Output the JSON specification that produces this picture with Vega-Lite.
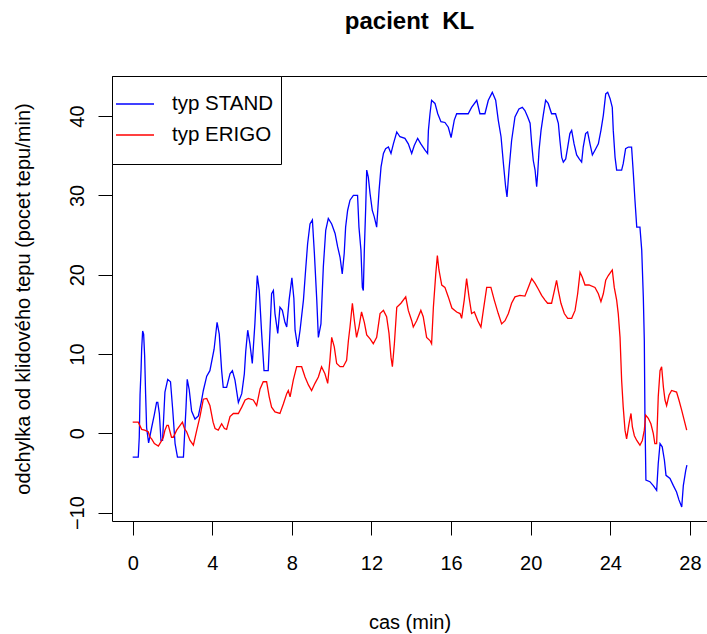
{
  "$schema": "https://vega.github.io/schema/vega-lite/v6.json",
  "width": 595,
  "height": 445,
  "autosize": {"type": "none"},
  "padding": {"left": 112, "top": 76, "right": 0, "bottom": 113},
  "background": "white",
  "config": {
    "font": "Liberation Sans",
    "view": {"stroke": null},
    "axis": {"grid": false, "domainColor": "black", "tickColor": "black", "labelColor": "black", "titleColor": "black", "labelFont": "Liberation Sans", "titleFont": "Liberation Sans", "labelFontSize": 20, "titleFontSize": 20, "titleFontWeight": "normal", "tickSize": 14, "domainWidth": 1, "tickWidth": 1}
  },
  "title": {"text": "pacient\u00a0 KL", "fontSize": 24, "fontWeight": "bold", "font": "Liberation Sans", "anchor": "middle", "baseline": "alphabetic", "offset": 23, "color": "black"},
  "data": {"values": [
{"typ":"typ STAND","cas":0,"hr":-3},{"typ":"typ STAND","cas":0.28,"hr":-3},{"typ":"typ STAND","cas":0.33,"hr":-0.5},{"typ":"typ STAND","cas":0.37,"hr":4.9},{"typ":"typ STAND","cas":0.42,"hr":8},{"typ":"typ STAND","cas":0.45,"hr":10.6},{"typ":"typ STAND","cas":0.5,"hr":12.9},{"typ":"typ STAND","cas":0.55,"hr":12.5},{"typ":"typ STAND","cas":0.6,"hr":9.8},{"typ":"typ STAND","cas":0.65,"hr":4.9},{"typ":"typ STAND","cas":0.7,"hr":0.7},{"typ":"typ STAND","cas":0.8,"hr":-1.2},{"typ":"typ STAND","cas":0.95,"hr":0.7},{"typ":"typ STAND","cas":1.09,"hr":2.4},{"typ":"typ STAND","cas":1.2,"hr":3.9},{"typ":"typ STAND","cas":1.26,"hr":3.9},{"typ":"typ STAND","cas":1.34,"hr":2.5},{"typ":"typ STAND","cas":1.42,"hr":-0.9},{"typ":"typ STAND","cas":1.5,"hr":-0.9},{"typ":"typ STAND","cas":1.62,"hr":5.2},{"typ":"typ STAND","cas":1.76,"hr":6.8},{"typ":"typ STAND","cas":1.9,"hr":6.5},{"typ":"typ STAND","cas":2.01,"hr":3},{"typ":"typ STAND","cas":2.13,"hr":-1.3},{"typ":"typ STAND","cas":2.25,"hr":-3},{"typ":"typ STAND","cas":2.55,"hr":-3},{"typ":"typ STAND","cas":2.68,"hr":3.3},{"typ":"typ STAND","cas":2.74,"hr":6.8},{"typ":"typ STAND","cas":2.84,"hr":5.5},{"typ":"typ STAND","cas":2.96,"hr":2.8},{"typ":"typ STAND","cas":3.13,"hr":1.8},{"typ":"typ STAND","cas":3.3,"hr":2.2},{"typ":"typ STAND","cas":3.45,"hr":4},{"typ":"typ STAND","cas":3.55,"hr":5.4},{"typ":"typ STAND","cas":3.72,"hr":7.2},{"typ":"typ STAND","cas":3.88,"hr":7.9},{"typ":"typ STAND","cas":4.09,"hr":10.6},{"typ":"typ STAND","cas":4.24,"hr":14},{"typ":"typ STAND","cas":4.35,"hr":12.5},{"typ":"typ STAND","cas":4.47,"hr":7.9},{"typ":"typ STAND","cas":4.55,"hr":5.8},{"typ":"typ STAND","cas":4.72,"hr":5.8},{"typ":"typ STAND","cas":4.89,"hr":7.5},{"typ":"typ STAND","cas":5.01,"hr":7.9},{"typ":"typ STAND","cas":5.14,"hr":6.7},{"typ":"typ STAND","cas":5.31,"hr":3.9},{"typ":"typ STAND","cas":5.48,"hr":5},{"typ":"typ STAND","cas":5.61,"hr":7.5},{"typ":"typ STAND","cas":5.68,"hr":10.3},{"typ":"typ STAND","cas":5.78,"hr":13},{"typ":"typ STAND","cas":5.89,"hr":11.3},{"typ":"typ STAND","cas":6.01,"hr":8.8},{"typ":"typ STAND","cas":6.14,"hr":13.8},{"typ":"typ STAND","cas":6.26,"hr":19.9},{"typ":"typ STAND","cas":6.36,"hr":18},{"typ":"typ STAND","cas":6.48,"hr":12.6},{"typ":"typ STAND","cas":6.6,"hr":7.9},{"typ":"typ STAND","cas":6.81,"hr":7.9},{"typ":"typ STAND","cas":6.9,"hr":13},{"typ":"typ STAND","cas":6.98,"hr":17.6},{"typ":"typ STAND","cas":7.07,"hr":18},{"typ":"typ STAND","cas":7.15,"hr":15.1},{"typ":"typ STAND","cas":7.29,"hr":12.6},{"typ":"typ STAND","cas":7.4,"hr":15.9},{"typ":"typ STAND","cas":7.52,"hr":15.5},{"typ":"typ STAND","cas":7.65,"hr":14},{"typ":"typ STAND","cas":7.74,"hr":13.4},{"typ":"typ STAND","cas":7.86,"hr":16.8},{"typ":"typ STAND","cas":8.0,"hr":19.6},{"typ":"typ STAND","cas":8.1,"hr":17},{"typ":"typ STAND","cas":8.16,"hr":13},{"typ":"typ STAND","cas":8.29,"hr":10.9},{"typ":"typ STAND","cas":8.41,"hr":13},{"typ":"typ STAND","cas":8.58,"hr":16.8},{"typ":"typ STAND","cas":8.69,"hr":20.6},{"typ":"typ STAND","cas":8.79,"hr":23.9},{"typ":"typ STAND","cas":8.91,"hr":26.4},{"typ":"typ STAND","cas":9.03,"hr":26.9},{"typ":"typ STAND","cas":9.13,"hr":22.7},{"typ":"typ STAND","cas":9.25,"hr":16.8},{"typ":"typ STAND","cas":9.33,"hr":12.1},{"typ":"typ STAND","cas":9.46,"hr":13.8},{"typ":"typ STAND","cas":9.58,"hr":21},{"typ":"typ STAND","cas":9.7,"hr":25.6},{"typ":"typ STAND","cas":9.83,"hr":27.1},{"typ":"typ STAND","cas":10.0,"hr":26.4},{"typ":"typ STAND","cas":10.17,"hr":25.2},{"typ":"typ STAND","cas":10.3,"hr":23.5},{"typ":"typ STAND","cas":10.42,"hr":22.2},{"typ":"typ STAND","cas":10.53,"hr":20.1},{"typ":"typ STAND","cas":10.63,"hr":22.7},{"typ":"typ STAND","cas":10.7,"hr":26},{"typ":"typ STAND","cas":10.8,"hr":28.1},{"typ":"typ STAND","cas":10.92,"hr":29.4},{"typ":"typ STAND","cas":11.09,"hr":30},{"typ":"typ STAND","cas":11.3,"hr":30},{"typ":"typ STAND","cas":11.37,"hr":26},{"typ":"typ STAND","cas":11.47,"hr":23.1},{"typ":"typ STAND","cas":11.54,"hr":18.4},{"typ":"typ STAND","cas":11.59,"hr":18},{"typ":"typ STAND","cas":11.64,"hr":23.1},{"typ":"typ STAND","cas":11.71,"hr":28.5},{"typ":"typ STAND","cas":11.76,"hr":33.2},{"typ":"typ STAND","cas":11.84,"hr":32.3},{"typ":"typ STAND","cas":11.93,"hr":30.2},{"typ":"typ STAND","cas":12.04,"hr":28.1},{"typ":"typ STAND","cas":12.14,"hr":27.3},{"typ":"typ STAND","cas":12.26,"hr":26},{"typ":"typ STAND","cas":12.38,"hr":30.6},{"typ":"typ STAND","cas":12.48,"hr":33.6},{"typ":"typ STAND","cas":12.6,"hr":35.3},{"typ":"typ STAND","cas":12.71,"hr":35.9},{"typ":"typ STAND","cas":12.85,"hr":36.1},{"typ":"typ STAND","cas":12.98,"hr":35.3},{"typ":"typ STAND","cas":13.1,"hr":36.5},{"typ":"typ STAND","cas":13.27,"hr":38},{"typ":"typ STAND","cas":13.43,"hr":37.4},{"typ":"typ STAND","cas":13.68,"hr":37.2},{"typ":"typ STAND","cas":13.85,"hr":36.5},{"typ":"typ STAND","cas":14.02,"hr":35.3},{"typ":"typ STAND","cas":14.15,"hr":36.3},{"typ":"typ STAND","cas":14.32,"hr":37.2},{"typ":"typ STAND","cas":14.48,"hr":36.5},{"typ":"typ STAND","cas":14.69,"hr":35.7},{"typ":"typ STAND","cas":14.82,"hr":35.3},{"typ":"typ STAND","cas":14.86,"hr":38.2},{"typ":"typ STAND","cas":14.94,"hr":40.3},{"typ":"typ STAND","cas":15.02,"hr":42},{"typ":"typ STAND","cas":15.19,"hr":41.6},{"typ":"typ STAND","cas":15.33,"hr":40.3},{"typ":"typ STAND","cas":15.49,"hr":39.3},{"typ":"typ STAND","cas":15.69,"hr":39.2},{"typ":"typ STAND","cas":15.86,"hr":38.6},{"typ":"typ STAND","cas":16.0,"hr":37.3},{"typ":"typ STAND","cas":16.16,"hr":39.5},{"typ":"typ STAND","cas":16.28,"hr":40.3},{"typ":"typ STAND","cas":16.86,"hr":40.3},{"typ":"typ STAND","cas":17.03,"hr":41.1},{"typ":"typ STAND","cas":17.29,"hr":42},{"typ":"typ STAND","cas":17.45,"hr":40.3},{"typ":"typ STAND","cas":17.7,"hr":40.3},{"typ":"typ STAND","cas":17.87,"hr":42},{"typ":"typ STAND","cas":18.07,"hr":43},{"typ":"typ STAND","cas":18.24,"hr":42},{"typ":"typ STAND","cas":18.37,"hr":39.5},{"typ":"typ STAND","cas":18.51,"hr":37.4},{"typ":"typ STAND","cas":18.63,"hr":34},{"typ":"typ STAND","cas":18.74,"hr":31.1},{"typ":"typ STAND","cas":18.81,"hr":29.8},{"typ":"typ STAND","cas":18.91,"hr":33.2},{"typ":"typ STAND","cas":19.04,"hr":36.9},{"typ":"typ STAND","cas":19.21,"hr":39.9},{"typ":"typ STAND","cas":19.41,"hr":40.9},{"typ":"typ STAND","cas":19.58,"hr":41.1},{"typ":"typ STAND","cas":19.71,"hr":40.7},{"typ":"typ STAND","cas":19.85,"hr":39.9},{"typ":"typ STAND","cas":19.97,"hr":39.1},{"typ":"typ STAND","cas":20.05,"hr":36.5},{"typ":"typ STAND","cas":20.13,"hr":34.4},{"typ":"typ STAND","cas":20.22,"hr":33.2},{"typ":"typ STAND","cas":20.3,"hr":31.1},{"typ":"typ STAND","cas":20.35,"hr":32.7},{"typ":"typ STAND","cas":20.42,"hr":35.7},{"typ":"typ STAND","cas":20.52,"hr":38.2},{"typ":"typ STAND","cas":20.63,"hr":40.1},{"typ":"typ STAND","cas":20.75,"hr":42},{"typ":"typ STAND","cas":20.88,"hr":41.6},{"typ":"typ STAND","cas":21.05,"hr":40.3},{"typ":"typ STAND","cas":21.25,"hr":40.3},{"typ":"typ STAND","cas":21.39,"hr":39.1},{"typ":"typ STAND","cas":21.47,"hr":36.9},{"typ":"typ STAND","cas":21.56,"hr":34.8},{"typ":"typ STAND","cas":21.64,"hr":34.2},{"typ":"typ STAND","cas":21.76,"hr":34.6},{"typ":"typ STAND","cas":21.86,"hr":36.1},{"typ":"typ STAND","cas":21.97,"hr":37.8},{"typ":"typ STAND","cas":22.06,"hr":38.2},{"typ":"typ STAND","cas":22.18,"hr":36.5},{"typ":"typ STAND","cas":22.31,"hr":35.1},{"typ":"typ STAND","cas":22.44,"hr":34.6},{"typ":"typ STAND","cas":22.56,"hr":34.2},{"typ":"typ STAND","cas":22.64,"hr":36.1},{"typ":"typ STAND","cas":22.76,"hr":37.8},{"typ":"typ STAND","cas":22.86,"hr":38},{"typ":"typ STAND","cas":22.98,"hr":36.5},{"typ":"typ STAND","cas":23.1,"hr":35.1},{"typ":"typ STAND","cas":23.23,"hr":35.7},{"typ":"typ STAND","cas":23.4,"hr":36.5},{"typ":"typ STAND","cas":23.53,"hr":38.2},{"typ":"typ STAND","cas":23.65,"hr":40.1},{"typ":"typ STAND","cas":23.77,"hr":42.8},{"typ":"typ STAND","cas":23.87,"hr":43},{"typ":"typ STAND","cas":23.99,"hr":42.2},{"typ":"typ STAND","cas":24.1,"hr":41.1},{"typ":"typ STAND","cas":24.15,"hr":38.2},{"typ":"typ STAND","cas":24.24,"hr":34.8},{"typ":"typ STAND","cas":24.32,"hr":33.2},{"typ":"typ STAND","cas":24.57,"hr":33.2},{"typ":"typ STAND","cas":24.65,"hr":34},{"typ":"typ STAND","cas":24.77,"hr":35.9},{"typ":"typ STAND","cas":24.91,"hr":36.1},{"typ":"typ STAND","cas":25.07,"hr":36.1},{"typ":"typ STAND","cas":25.16,"hr":32.7},{"typ":"typ STAND","cas":25.24,"hr":29.4},{"typ":"typ STAND","cas":25.33,"hr":26},{"typ":"typ STAND","cas":25.49,"hr":26},{"typ":"typ STAND","cas":25.58,"hr":23.1},{"typ":"typ STAND","cas":25.66,"hr":17.2},{"typ":"typ STAND","cas":25.71,"hr":11.7},{"typ":"typ STAND","cas":25.74,"hr":2.5},{"typ":"typ STAND","cas":25.79,"hr":-5.9},{"typ":"typ STAND","cas":25.99,"hr":-6.1},{"typ":"typ STAND","cas":26.16,"hr":-6.6},{"typ":"typ STAND","cas":26.33,"hr":-7.2},{"typ":"typ STAND","cas":26.41,"hr":-3.8},{"typ":"typ STAND","cas":26.5,"hr":-1.3},{"typ":"typ STAND","cas":26.61,"hr":-1.7},{"typ":"typ STAND","cas":26.72,"hr":-3.4},{"typ":"typ STAND","cas":26.8,"hr":-5.3},{"typ":"typ STAND","cas":27.0,"hr":-5.7},{"typ":"typ STAND","cas":27.17,"hr":-6.6},{"typ":"typ STAND","cas":27.33,"hr":-7.4},{"typ":"typ STAND","cas":27.45,"hr":-8.4},{"typ":"typ STAND","cas":27.59,"hr":-9.3},{"typ":"typ STAND","cas":27.67,"hr":-6.6},{"typ":"typ STAND","cas":27.79,"hr":-4.7},{"typ":"typ STAND","cas":27.85,"hr":-4},
{"typ":"typ ERIGO","cas":0,"hr":1.4},{"typ":"typ ERIGO","cas":0.28,"hr":1.4},{"typ":"typ ERIGO","cas":0.45,"hr":0.5},{"typ":"typ ERIGO","cas":0.6,"hr":0.4},{"typ":"typ ERIGO","cas":0.78,"hr":0.2},{"typ":"typ ERIGO","cas":0.87,"hr":-0.5},{"typ":"typ ERIGO","cas":0.95,"hr":-0.7},{"typ":"typ ERIGO","cas":1.09,"hr":-1.3},{"typ":"typ ERIGO","cas":1.29,"hr":-1.6},{"typ":"typ ERIGO","cas":1.46,"hr":-0.9},{"typ":"typ ERIGO","cas":1.54,"hr":-0.5},{"typ":"typ ERIGO","cas":1.62,"hr":0.4},{"typ":"typ ERIGO","cas":1.72,"hr":1},{"typ":"typ ERIGO","cas":1.79,"hr":1},{"typ":"typ ERIGO","cas":1.95,"hr":-0.5},{"typ":"typ ERIGO","cas":2.04,"hr":-0.5},{"typ":"typ ERIGO","cas":2.21,"hr":0.4},{"typ":"typ ERIGO","cas":2.38,"hr":1},{"typ":"typ ERIGO","cas":2.5,"hr":1.4},{"typ":"typ ERIGO","cas":2.6,"hr":0.6},{"typ":"typ ERIGO","cas":2.71,"hr":0.2},{"typ":"typ ERIGO","cas":2.88,"hr":-0.9},{"typ":"typ ERIGO","cas":3.05,"hr":-1.5},{"typ":"typ ERIGO","cas":3.22,"hr":0.4},{"typ":"typ ERIGO","cas":3.38,"hr":2.1},{"typ":"typ ERIGO","cas":3.55,"hr":4.3},{"typ":"typ ERIGO","cas":3.72,"hr":4.4},{"typ":"typ ERIGO","cas":3.88,"hr":3.5},{"typ":"typ ERIGO","cas":4.04,"hr":1.4},{"typ":"typ ERIGO","cas":4.14,"hr":0.6},{"typ":"typ ERIGO","cas":4.3,"hr":0.4},{"typ":"typ ERIGO","cas":4.47,"hr":1.2},{"typ":"typ ERIGO","cas":4.61,"hr":0.6},{"typ":"typ ERIGO","cas":4.72,"hr":0.5},{"typ":"typ ERIGO","cas":4.89,"hr":2.1},{"typ":"typ ERIGO","cas":5.06,"hr":2.5},{"typ":"typ ERIGO","cas":5.31,"hr":2.5},{"typ":"typ ERIGO","cas":5.48,"hr":3.3},{"typ":"typ ERIGO","cas":5.65,"hr":4.2},{"typ":"typ ERIGO","cas":5.81,"hr":4.4},{"typ":"typ ERIGO","cas":6.06,"hr":4.2},{"typ":"typ ERIGO","cas":6.23,"hr":3.5},{"typ":"typ ERIGO","cas":6.4,"hr":5.6},{"typ":"typ ERIGO","cas":6.56,"hr":6.5},{"typ":"typ ERIGO","cas":6.73,"hr":6.5},{"typ":"typ ERIGO","cas":6.86,"hr":4.6},{"typ":"typ ERIGO","cas":6.98,"hr":3.3},{"typ":"typ ERIGO","cas":7.15,"hr":2.7},{"typ":"typ ERIGO","cas":7.4,"hr":2.5},{"typ":"typ ERIGO","cas":7.57,"hr":3.7},{"typ":"typ ERIGO","cas":7.74,"hr":5},{"typ":"typ ERIGO","cas":7.82,"hr":5.4},{"typ":"typ ERIGO","cas":7.91,"hr":4.6},{"typ":"typ ERIGO","cas":8.07,"hr":6.7},{"typ":"typ ERIGO","cas":8.24,"hr":8.4},{"typ":"typ ERIGO","cas":8.49,"hr":8.4},{"typ":"typ ERIGO","cas":8.66,"hr":7.1},{"typ":"typ ERIGO","cas":8.83,"hr":6.1},{"typ":"typ ERIGO","cas":8.99,"hr":5.4},{"typ":"typ ERIGO","cas":9.16,"hr":6.3},{"typ":"typ ERIGO","cas":9.33,"hr":7.1},{"typ":"typ ERIGO","cas":9.49,"hr":8.4},{"typ":"typ ERIGO","cas":9.66,"hr":7.5},{"typ":"typ ERIGO","cas":9.8,"hr":6.3},{"typ":"typ ERIGO","cas":9.91,"hr":9.2},{"typ":"typ ERIGO","cas":10.0,"hr":12.1},{"typ":"typ ERIGO","cas":10.13,"hr":10.9},{"typ":"typ ERIGO","cas":10.25,"hr":8.8},{"typ":"typ ERIGO","cas":10.42,"hr":8.4},{"typ":"typ ERIGO","cas":10.58,"hr":8.4},{"typ":"typ ERIGO","cas":10.75,"hr":9.2},{"typ":"typ ERIGO","cas":10.84,"hr":11.7},{"typ":"typ ERIGO","cas":10.92,"hr":13.4},{"typ":"typ ERIGO","cas":11.04,"hr":16.4},{"typ":"typ ERIGO","cas":11.14,"hr":14.2},{"typ":"typ ERIGO","cas":11.25,"hr":12.1},{"typ":"typ ERIGO","cas":11.37,"hr":13.4},{"typ":"typ ERIGO","cas":11.5,"hr":15.3},{"typ":"typ ERIGO","cas":11.64,"hr":14},{"typ":"typ ERIGO","cas":11.76,"hr":12.4},{"typ":"typ ERIGO","cas":11.93,"hr":11.9},{"typ":"typ ERIGO","cas":12.09,"hr":11.3},{"typ":"typ ERIGO","cas":12.26,"hr":12.1},{"typ":"typ ERIGO","cas":12.43,"hr":15.1},{"typ":"typ ERIGO","cas":12.6,"hr":15.5},{"typ":"typ ERIGO","cas":12.76,"hr":14.7},{"typ":"typ ERIGO","cas":12.88,"hr":12.6},{"typ":"typ ERIGO","cas":12.98,"hr":9.6},{"typ":"typ ERIGO","cas":13.05,"hr":8.4},{"typ":"typ ERIGO","cas":13.15,"hr":11.3},{"typ":"typ ERIGO","cas":13.27,"hr":15.9},{"typ":"typ ERIGO","cas":13.48,"hr":16.4},{"typ":"typ ERIGO","cas":13.72,"hr":17.2},{"typ":"typ ERIGO","cas":13.85,"hr":15.5},{"typ":"typ ERIGO","cas":14.02,"hr":14.2},{"typ":"typ ERIGO","cas":14.1,"hr":13.4},{"typ":"typ ERIGO","cas":14.27,"hr":14.2},{"typ":"typ ERIGO","cas":14.48,"hr":15.5},{"typ":"typ ERIGO","cas":14.6,"hr":14.7},{"typ":"typ ERIGO","cas":14.77,"hr":12.1},{"typ":"typ ERIGO","cas":14.94,"hr":11.7},{"typ":"typ ERIGO","cas":15.02,"hr":11.3},{"typ":"typ ERIGO","cas":15.11,"hr":15.9},{"typ":"typ ERIGO","cas":15.23,"hr":20.1},{"typ":"typ ERIGO","cas":15.31,"hr":22.4},{"typ":"typ ERIGO","cas":15.39,"hr":20.6},{"typ":"typ ERIGO","cas":15.53,"hr":18.7},{"typ":"typ ERIGO","cas":15.69,"hr":18.4},{"typ":"typ ERIGO","cas":15.86,"hr":17.2},{"typ":"typ ERIGO","cas":16.04,"hr":15.8},{"typ":"typ ERIGO","cas":16.28,"hr":15.3},{"typ":"typ ERIGO","cas":16.45,"hr":15.1},{"typ":"typ ERIGO","cas":16.53,"hr":14.5},{"typ":"typ ERIGO","cas":16.66,"hr":16.8},{"typ":"typ ERIGO","cas":16.78,"hr":19.5},{"typ":"typ ERIGO","cas":16.9,"hr":17.2},{"typ":"typ ERIGO","cas":17.03,"hr":15.1},{"typ":"typ ERIGO","cas":17.17,"hr":15.3},{"typ":"typ ERIGO","cas":17.34,"hr":14.2},{"typ":"typ ERIGO","cas":17.5,"hr":13.4},{"typ":"typ ERIGO","cas":17.62,"hr":15.5},{"typ":"typ ERIGO","cas":17.79,"hr":18.4},{"typ":"typ ERIGO","cas":18.0,"hr":18.4},{"typ":"typ ERIGO","cas":18.17,"hr":16.8},{"typ":"typ ERIGO","cas":18.37,"hr":15.1},{"typ":"typ ERIGO","cas":18.54,"hr":13.8},{"typ":"typ ERIGO","cas":18.71,"hr":14.2},{"typ":"typ ERIGO","cas":18.88,"hr":15.1},{"typ":"typ ERIGO","cas":19.04,"hr":16.4},{"typ":"typ ERIGO","cas":19.21,"hr":17.2},{"typ":"typ ERIGO","cas":19.46,"hr":17.4},{"typ":"typ ERIGO","cas":19.71,"hr":17.3},{"typ":"typ ERIGO","cas":19.88,"hr":18.4},{"typ":"typ ERIGO","cas":20.05,"hr":19.5},{"typ":"typ ERIGO","cas":20.22,"hr":18.9},{"typ":"typ ERIGO","cas":20.38,"hr":18.2},{"typ":"typ ERIGO","cas":20.55,"hr":17.4},{"typ":"typ ERIGO","cas":20.72,"hr":16.8},{"typ":"typ ERIGO","cas":20.85,"hr":16.4},{"typ":"typ ERIGO","cas":21.05,"hr":16.4},{"typ":"typ ERIGO","cas":21.19,"hr":18},{"typ":"typ ERIGO","cas":21.3,"hr":19.3},{"typ":"typ ERIGO","cas":21.39,"hr":18},{"typ":"typ ERIGO","cas":21.52,"hr":16.4},{"typ":"typ ERIGO","cas":21.69,"hr":15.1},{"typ":"typ ERIGO","cas":21.86,"hr":14.5},{"typ":"typ ERIGO","cas":22.06,"hr":14.5},{"typ":"typ ERIGO","cas":22.23,"hr":15.5},{"typ":"typ ERIGO","cas":22.36,"hr":17.6},{"typ":"typ ERIGO","cas":22.48,"hr":20.3},{"typ":"typ ERIGO","cas":22.59,"hr":19.7},{"typ":"typ ERIGO","cas":22.73,"hr":18.7},{"typ":"typ ERIGO","cas":22.93,"hr":18.7},{"typ":"typ ERIGO","cas":23.23,"hr":18.4},{"typ":"typ ERIGO","cas":23.4,"hr":17.6},{"typ":"typ ERIGO","cas":23.53,"hr":16.6},{"typ":"typ ERIGO","cas":23.65,"hr":17.6},{"typ":"typ ERIGO","cas":23.77,"hr":19.3},{"typ":"typ ERIGO","cas":23.9,"hr":19.9},{"typ":"typ ERIGO","cas":24.04,"hr":20.4},{"typ":"typ ERIGO","cas":24.1,"hr":20.6},{"typ":"typ ERIGO","cas":24.2,"hr":18.4},{"typ":"typ ERIGO","cas":24.32,"hr":16.8},{"typ":"typ ERIGO","cas":24.4,"hr":15.1},{"typ":"typ ERIGO","cas":24.49,"hr":12.1},{"typ":"typ ERIGO","cas":24.57,"hr":6.7},{"typ":"typ ERIGO","cas":24.65,"hr":3.3},{"typ":"typ ERIGO","cas":24.74,"hr":0.4},{"typ":"typ ERIGO","cas":24.82,"hr":-0.7},{"typ":"typ ERIGO","cas":24.94,"hr":1.2},{"typ":"typ ERIGO","cas":25.04,"hr":2.5},{"typ":"typ ERIGO","cas":25.11,"hr":0.8},{"typ":"typ ERIGO","cas":25.21,"hr":-0.3},{"typ":"typ ERIGO","cas":25.33,"hr":-0.9},{"typ":"typ ERIGO","cas":25.49,"hr":-1.5},{"typ":"typ ERIGO","cas":25.61,"hr":-0.9},{"typ":"typ ERIGO","cas":25.71,"hr":0.4},{"typ":"typ ERIGO","cas":25.78,"hr":2.3},{"typ":"typ ERIGO","cas":25.91,"hr":1.9},{"typ":"typ ERIGO","cas":26.04,"hr":1.2},{"typ":"typ ERIGO","cas":26.16,"hr":0},{"typ":"typ ERIGO","cas":26.24,"hr":-1.3},{"typ":"typ ERIGO","cas":26.33,"hr":-1.3},{"typ":"typ ERIGO","cas":26.41,"hr":4.6},{"typ":"typ ERIGO","cas":26.5,"hr":7.9},{"typ":"typ ERIGO","cas":26.58,"hr":8.4},{"typ":"typ ERIGO","cas":26.67,"hr":5.8},{"typ":"typ ERIGO","cas":26.75,"hr":4.2},{"typ":"typ ERIGO","cas":26.83,"hr":3.5},{"typ":"typ ERIGO","cas":26.95,"hr":4.8},{"typ":"typ ERIGO","cas":27.08,"hr":5.4},{"typ":"typ ERIGO","cas":27.33,"hr":5.2},{"typ":"typ ERIGO","cas":27.45,"hr":4.2},{"typ":"typ ERIGO","cas":27.59,"hr":2.9},{"typ":"typ ERIGO","cas":27.72,"hr":1.6},{"typ":"typ ERIGO","cas":27.84,"hr":0.4}
  ]},
  "encoding": {
    "x": {"field": "cas", "type": "quantitative", "scale": {"domain": [-1.04, 28.86], "nice": false, "zero": false},
      "axis": {"values": [0, 4, 8, 12, 16, 20, 24, 28], "title": "cas (min)", "labelBaseline": "alphabetic", "labelPadding": 34, "labelFlush": false, "titleX": 297.5, "titleY": 107, "titleAlign": "center", "titleBaseline": "alphabetic", "domain": true}},
    "y": {"field": "hr", "type": "quantitative", "scale": {"domain": [-11.06, 45.06], "nice": false, "zero": false},
      "axis": {"values": [-10, 0, 10, 20, 30, 40], "title": "odchylka od klidového tepu (pocet tepu/min)", "labelAngle": 270, "labelAlign": "center", "labelBaseline": "alphabetic", "labelPadding": 15, "titleAngle": 270, "titleX": -83, "titleY": 222.5, "titleAlign": "center", "titleBaseline": "alphabetic", "domain": true}}
  },
  "layer": [
    {
      "mark": {"type": "line", "strokeWidth": 1.3},
      "encoding": {
        "color": {"field": "typ", "type": "nominal", "scale": {"domain": ["typ STAND", "typ ERIGO"], "range": ["#0000ff", "#ff0000"]},
          "legend": {"title": "\u00a0", "titleOrient": "bottom", "titleFontSize": 6, "titlePadding": 4, "orient": "none", "legendX": 0, "legendY": 0, "direction": "vertical", "symbolType": "stroke", "symbolSize": 1444, "symbolStrokeWidth": 1.3, "symbolOffset": -5, "labelFontSize": 20.5, "labelFont": "Liberation Sans", "labelColor": "black", "padding": 8, "labelOffset": 17, "rowPadding": 0, "strokeColor": "black", "fillColor": "white", "cornerRadius": 0}}
      }
    },
    {
      "mark": {"type": "point", "opacity": 0},
      "encoding": {
        "x": {"field": "cas", "type": "quantitative", "axis": {"orient": "top", "labels": false, "ticks": false, "title": null, "domain": true}}
      }
    }
  ],
  "resolve": {"axis": {"x": "independent"}}
}
